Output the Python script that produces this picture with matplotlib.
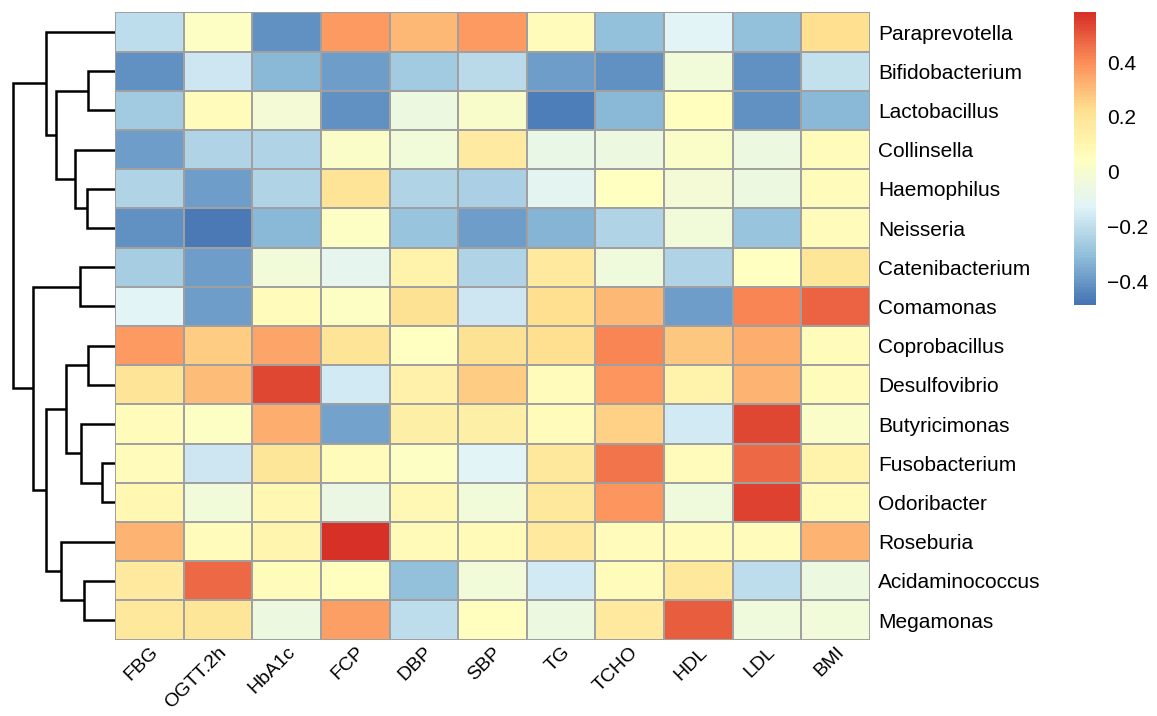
import matplotlib
matplotlib.use("Agg")
import matplotlib.pyplot as plt
import numpy as np
from matplotlib.colors import LinearSegmentedColormap

plt.rcParams["font.family"] = ["Liberation Sans", "DejaVu Sans"]

columns = ["FBG", "OGTT.2h", "HbA1c", "FCP", "DBP", "SBP", "TG", "TCHO", "HDL", "LDL", "BMI"]
taxa = ["Paraprevotella", "Bifidobacterium", "Lactobacillus", "Collinsella", "Haemophilus",
        "Neisseria", "Catenibacterium", "Comamonas", "Coprobacillus", "Desulfovibrio",
        "Butyricimonas", "Fusobacterium", "Odoribacter", "Roseburia", "Acidaminococcus",
        "Megamonas"]

paraprevotella = [-0.20, 0.03, -0.42, 0.37, 0.31, 0.37, 0.07, -0.30, -0.12, -0.30, 0.22]
bifidobacterium = [-0.42, -0.17, -0.32, -0.38, -0.27, -0.21, -0.38, -0.41, -0.03, -0.42, -0.19]
lactobacillus = [-0.27, 0.07, -0.02, -0.42, -0.05, 0.01, -0.46, -0.32, 0.05, -0.42, -0.32]
collinsella = [-0.38, -0.23, -0.23, 0.02, -0.03, 0.16, -0.07, -0.05, 0.02, -0.05, 0.06]
haemophilus = [-0.23, -0.38, -0.23, 0.20, -0.23, -0.24, -0.11, 0.04, -0.02, -0.05, 0.07]
neisseria = [-0.42, -0.47, -0.32, 0.03, -0.29, -0.38, -0.33, -0.23, -0.03, -0.29, 0.06]
catenibacterium = [-0.26, -0.38, -0.03, -0.10, 0.12, -0.23, 0.17, -0.04, -0.23, 0.04, 0.19]
comamonas = [-0.12, -0.38, 0.07, 0.03, 0.21, -0.17, 0.22, 0.31, -0.38, 0.42, 0.48]
coprobacillus = [0.37, 0.27, 0.35, 0.20, 0.04, 0.21, 0.23, 0.42, 0.28, 0.33, 0.06]
desulfovibrio = [0.20, 0.30, 0.53, -0.16, 0.13, 0.27, 0.07, 0.38, 0.12, 0.32, 0.07]
butyricimonas = [0.06, 0.03, 0.33, -0.37, 0.14, 0.14, 0.07, 0.26, -0.16, 0.53, 0.02]
fusobacterium = [0.07, -0.17, 0.19, 0.06, 0.03, -0.12, 0.18, 0.45, 0.06, 0.47, 0.12]
odoribacter = [0.10, -0.03, 0.10, -0.06, 0.09, -0.03, 0.18, 0.38, -0.04, 0.55, 0.08]
roseburia = [0.32, 0.06, 0.11, 0.58, 0.08, 0.08, 0.17, 0.07, 0.07, 0.06, 0.32]
acidaminococcus = [0.17, 0.47, 0.06, 0.05, -0.30, -0.03, -0.16, 0.07, 0.18, -0.20, -0.05]
megamonas = [0.18, 0.19, -0.05, 0.36, -0.20, 0.05, -0.05, 0.17, 0.49, -0.04, -0.03]

# row dendrogram merges: (left, right, height); leaves are 0..15, new clusters 16..
merges = [
    (1, 2, 27), (4, 5, 28), (3, 17, 40), (16, 18, 59), (0, 19, 69),
    (6, 7, 35), (8, 9, 27), (11, 12, 13), (10, 23, 34), (22, 24, 49),
    (14, 15, 31), (13, 26, 54), (25, 27, 69), (21, 28, 82), (20, 29, 102),
]

values = np.array([paraprevotella, bifidobacterium, lactobacillus, collinsella, haemophilus,
                   neisseria, catenibacterium, comamonas, coprobacillus, desulfovibrio,
                   butyricimonas, fusobacterium, odoribacter, roseburia, acidaminococcus,
                   megamonas])

palette = ["#4575B4", "#91BFDB", "#E0F3F8", "#FFFFBF", "#FEE090", "#FC8D59", "#D73027"]
cmap = LinearSegmentedColormap.from_list("rdylbu_r", palette, N=100)
vmin, vmax = -0.484, 0.582

W, H = 1157, 716
fig = plt.figure(figsize=(W / 100, H / 100), dpi=100)
fig.patch.set_facecolor("white")

top, bottom = 12.4, 639.6
ax = fig.add_axes([115 / W, 1 - bottom / H, 755 / W, (bottom - top) / H])
mesh = ax.pcolormesh(values, cmap=cmap, vmin=vmin, vmax=vmax,
                     edgecolors="#A0A0A0", linewidth=1.1)
ax.set_xlim(0, len(columns))
ax.set_ylim(len(taxa), 0)
ax.set_yticks(np.arange(len(taxa)) + 0.5)
ax.set_yticklabels(taxa, fontsize=15)
ax.yaxis.tick_right()
ax.set_xticks(np.arange(len(columns)) + 0.5)
ax.set_xticklabels(columns, fontsize=14, rotation=45, ha="right", va="top",
                   rotation_mode="anchor")
ax.tick_params(axis="y", length=0, pad=6)
ax.tick_params(axis="x", length=0, pad=3)
for s in ax.spines.values():
    s.set_visible(False)

# dendrogram
dax = fig.add_axes([12 / W, 1 - bottom / H, 103 / W, (bottom - top) / H])
pos = {i: (i + 0.5, 0.0) for i in range(len(taxa))}
for k, (a, b, h) in enumerate(merges):
    ya, ha = pos[a]
    yb, hb = pos[b]
    dax.plot([ha, h, h, hb], [ya, ya, yb, yb], color="black", lw=1.8,
             solid_joinstyle="miter", solid_capstyle="butt")
    pos[len(taxa) + k] = ((ya + yb) / 2, h)
dax.set_xlim(103, 0)
dax.set_ylim(len(taxa), 0)
dax.axis("off")

# colour legend
cax = fig.add_axes([1074 / W, 1 - 305 / H, 22 / W, 293 / H])
cb = fig.colorbar(mesh, cax=cax, ticks=[-0.4, -0.2, 0, 0.2, 0.4])
cb.set_ticklabels(["\u22120.4", "\u22120.2", "0", "0.2", "0.4"])
cb.outline.set_visible(False)
cax.tick_params(length=0, labelsize=15, pad=8)

fig.savefig("out.png", dpi=100, facecolor="white")
